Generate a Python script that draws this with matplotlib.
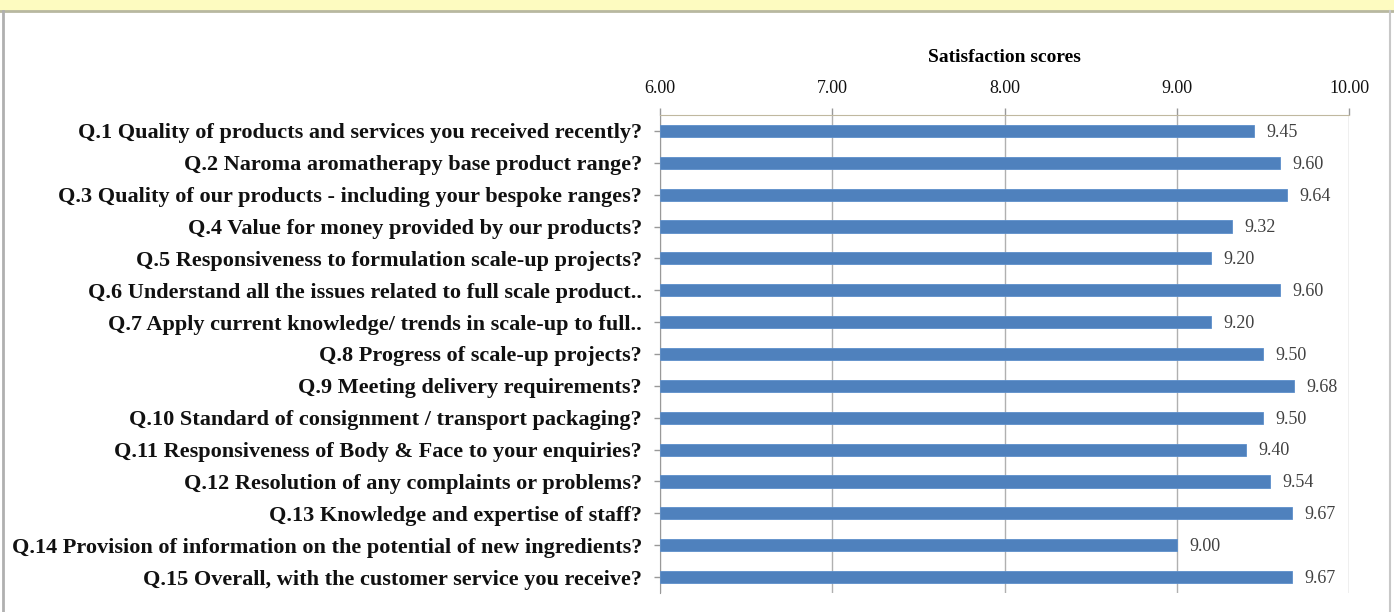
import matplotlib
matplotlib.use("Agg")
import matplotlib.pyplot as plt
from matplotlib.patches import Rectangle

questions = [
    "Q.1 Quality of products and services you received recently?",
    "Q.2 Naroma aromatherapy base product range?",
    "Q.3 Quality of our products - including your bespoke ranges?",
    "Q.4 Value for money provided by our products?",
    "Q.5 Responsiveness to formulation scale-up projects?",
    "Q.6 Understand all the issues related to full scale product..",
    "Q.7 Apply current knowledge/ trends in scale-up to full..",
    "Q.8 Progress of scale-up projects?",
    "Q.9 Meeting delivery requirements?",
    "Q.10 Standard of consignment / transport packaging?",
    "Q.11 Responsiveness of Body & Face to your enquiries?",
    "Q.12 Resolution of any complaints or problems?",
    "Q.13 Knowledge and expertise of staff?",
    "Q.14 Provision of information on the potential of new ingredients?",
    "Q.15 Overall, with the customer service you receive?",
]
scores = [9.45, 9.60, 9.64, 9.32, 9.20, 9.60, 9.20, 9.50, 9.68, 9.50,
          9.40, 9.54, 9.67, 9.00, 9.67]
x_ticks = [6.0, 7.0, 8.0, 9.0, 10.0]

plt.rcParams['font.family'] = ['Liberation Serif', 'DejaVu Serif']

fig = plt.figure(figsize=(13.94, 6.12), dpi=100)

# pale yellow band at the top and grey frame round the chart area
fig.patches.append(Rectangle((0, 1 - 11 / 612), 1, 11 / 612, transform=fig.transFigure,
                             facecolor='#fdfbc0', edgecolor='none', zorder=0))
fig.add_artist(plt.Line2D([0, 1], [1 - 11 / 612, 1 - 11 / 612], transform=fig.transFigure,
                          color='#b8b8a0', lw=2))
fig.add_artist(plt.Line2D([3 / 1394, 3 / 1394], [0, 1 - 11 / 612], transform=fig.transFigure,
                          color='#b0b0b0', lw=2))
fig.add_artist(plt.Line2D([1390 / 1394, 1390 / 1394], [0, 1 - 11 / 612], transform=fig.transFigure,
                          color='#c8c8c8', lw=1.5))

ax = fig.add_axes([660 / 1394, 19 / 612, 689 / 1394, 478 / 612])
y = list(range(len(questions)))
ax.barh(y, [s - 6.0 for s in scores], left=6.0, height=0.38, color='#4f81bd',
        edgecolor='#5d8fcb', linewidth=0.6, zorder=3)

for yi, s in zip(y, scores):
    ax.annotate(f"{s:.2f}", (s, yi), xytext=(9, -1), textcoords='offset points',
                va='center', ha='left', fontsize=13, color='#404040')

ax.set_xlim(6, 10)
ax.set_ylim(len(questions) - 0.5, -0.5)
ax.xaxis.tick_top()
ax.xaxis.set_label_position('top')
ax.set_xticks(x_ticks)
ax.set_xticklabels([f"{t:.2f}" for t in x_ticks], fontsize=13, color='#111111')
ax.set_xlabel('Satisfaction scores', fontsize=14, fontweight='bold', labelpad=13)
ax.set_yticks(y)
ax.set_yticklabels(questions, fontsize=16, fontweight='bold', color='#111111')

ax.tick_params(axis='x', length=5, width=1, color='#999999', pad=8)
ax.tick_params(axis='y', length=4, width=1, color='#999999', pad=9)
ax.grid(axis='x', color='#b0b0b0', linewidth=1, zorder=0)
for side in ['right', 'bottom']:
    ax.spines[side].set_visible(False)
ax.spines['top'].set_color('#c0b8a0')
ax.spines['left'].set_color('#999999')

fig.savefig("out.png", dpi=100)
